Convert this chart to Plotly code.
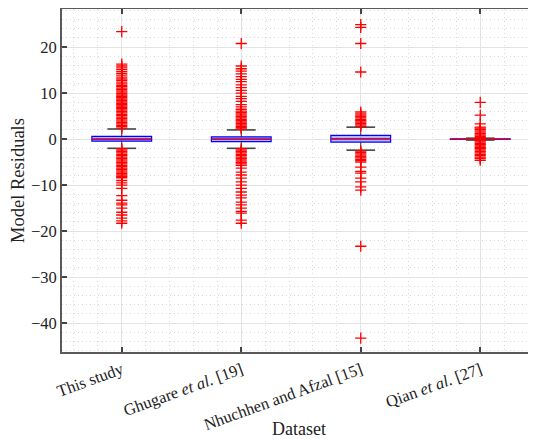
import plotly.graph_objects as go

# ---------------- data ----------------
categories = ["This study", "Ghugare <i>et al.</i> [19]",
              "Nhuchhen and Afzal [15]", "Qian <i>et al.</i> [27]"]
q1 = [-0.45, -0.55, -0.65, -0.08]
median = [0.0, 0.0, 0.05, 0.0]
q3 = [0.6, 0.5, 0.8, 0.08]
lower_whisker = [-2.0, -2.0, -2.4, -0.2]
upper_whisker = [2.2, 2.0, 2.6, 0.2]

outliers_this_study = [
    2.4, 2.7, 3.0, 3.3, 3.6, 3.9, 4.2, 4.5, 4.8, 5.1, 5.4, 5.7, 6.0, 6.3, 6.6,
    6.9, 7.2, 7.5, 7.8, 8.1, 8.4, 8.7, 9.0, 9.3, 9.6, 9.9, 10.2, 10.5, 10.8,
    11.1, 11.4, 11.7, 12.0, 12.4, 12.8, 13.1, 13.5, 13.9, 14.3, 14.7, 15.1,
    15.5, 15.9, 16.3, 23.4,
    -2.1, -2.4, -2.7, -3.0, -3.3, -3.6, -3.9, -4.2, -4.5, -4.8, -5.1, -5.4,
    -5.7, -6.0, -6.3, -6.6, -6.9, -7.2, -7.5, -7.8, -8.1, -8.4, -9.0, -9.5,
    -10.0, -10.7, -12.3, -13.3, -13.9, -14.3, -15.0, -15.9, -16.5, -17.2,
    -17.8, -18.3,
]
outliers_ghugare = [
    2.2, 2.5, 2.8, 3.1, 3.4, 3.7, 4.0, 4.3, 4.6, 4.9, 5.2, 5.5, 5.8, 6.1, 6.5,
    7.0, 7.5, 8.2, 8.8, 9.3, 10.0, 10.6, 11.2, 11.8, 12.5, 13.0, 13.6, 14.2,
    14.8, 15.3, 15.9, 20.8,
    -2.1, -2.4, -2.7, -3.0, -3.3, -3.6, -3.9, -4.2, -4.5, -4.8, -5.1, -5.4,
    -5.7, -6.3, -7.2, -7.8, -8.5, -9.3, -10.0, -10.7, -11.5, -12.2, -12.8,
    -13.7, -14.3, -15.0, -15.7, -16.1, -17.6, -18.3,
]
outliers_nhuchhen = [
    2.8, 3.1, 3.4, 3.7, 4.0, 4.3, 4.6, 4.9, 5.2, 5.5, 5.9, 14.6, 20.8, 24.3,
    24.9,
    -2.6, -2.9, -3.2, -3.5, -3.8, -4.1, -4.4, -4.7, -5.0, -6.1, -7.0, -7.4,
    -8.5, -9.3, -10.4, -11.1, -23.3, -43.3,
]
outliers_qian = [
    0.3, 0.6, 0.9, 1.2, 1.5, 1.8, 2.1, 2.4, 2.6, 3.3, 5.2, 8.0,
    -0.3, -0.6, -0.9, -1.2, -1.5, -1.8, -2.1, -2.4, -2.7, -3.0, -3.3, -3.6,
    -3.9, -4.2, -4.6,
]
outliers = [outliers_this_study, outliers_ghugare, outliers_nhuchhen, outliers_qian]

y_ticks = [-40, -30, -20, -10, 0, 10, 20]

# ---------------- style ----------------
FONT = "Liberation Serif, Times New Roman, serif"
positions = [i + 1 for i in range(len(categories))]
box_w = 0.5
cap_half = 0.12

fig = go.Figure()

# box bodies
fig.add_trace(go.Box(
    x=positions, q1=q1, median=median, q3=q3,
    lowerfence=q1, upperfence=q3,
    width=box_w, boxpoints=False,
    line=dict(color="#0000ff", width=1.2),
    fillcolor="rgba(40,40,255,0.35)",
    whiskerwidth=0, showlegend=False, hoverinfo="skip",
))

# whiskers (vertical) and caps
wx, wy, cx, cy = [], [], [], []
for p, lo, hi, a, b in zip(positions, lower_whisker, upper_whisker, q1, q3):
    wx += [p, p, None, p, p, None]
    wy += [b, hi, None, a, lo, None]
    cx += [p - cap_half, p + cap_half, None, p - cap_half, p + cap_half, None]
    cy += [hi, hi, None, lo, lo, None]
fig.add_trace(go.Scatter(x=wx, y=wy, mode="lines",
                         line=dict(color="#333333", width=1, dash="dash"),
                         showlegend=False, hoverinfo="skip"))
fig.add_trace(go.Scatter(x=cx, y=cy, mode="lines",
                         line=dict(color="#444444", width=1.6),
                         showlegend=False, hoverinfo="skip"))

# outliers
for p, vals in zip(positions, outliers):
    fig.add_trace(go.Scatter(
        x=[p] * len(vals), y=vals, mode="markers",
        marker=dict(symbol="cross-thin", size=8,
                    line=dict(color="#ff0000", width=1.3)),
        showlegend=False, hoverinfo="skip"))

# medians
mx, my = [], []
for p, m in zip(positions, median):
    mx += [p - box_w / 2, p + box_w / 2, None]
    my += [m, m, None]
fig.add_trace(go.Scatter(x=mx, y=my, mode="lines",
                         line=dict(color="#ff0000", width=1.2),
                         showlegend=False, hoverinfo="skip"))

# page body has an 8px margin, so the figure is sized/offset to compensate
fig.update_layout(
    width=528, height=431,
    margin=dict(l=54, r=0, t=1, b=87),
    paper_bgcolor="white", plot_bgcolor="white",
    font=dict(family=FONT, size=16, color="#222222"),
    showlegend=False,
)

fig.update_xaxes(
    range=[0.5, 0.5 + 474 / 119.5],
    tickmode="array", tickvals=positions, ticktext=categories,
    tickangle=-20, tickfont=dict(size=16.5, family=FONT),
    ticks="inside", ticklen=5, tickcolor="#444444", tickwidth=1.5,
    showline=True, linecolor="#5a5a5a", linewidth=2, mirror="ticks",
    showgrid=True, gridcolor="#e3e3e3", gridwidth=1,
    minor=dict(dtick=0.2, tick0=0, showgrid=True, gridcolor="#dcdcdc",
               griddash="1px,3px", gridwidth=1, ticklen=0),
    zeroline=False,
    title=dict(text="Dataset", font=dict(size=18, family=FONT), standoff=0),
    automargin=False,
)
fig.update_yaxes(
    range=[-46.3, 28.3],
    tickmode="array", tickvals=y_ticks,
    ticks="inside", ticklen=5, tickcolor="#444444", tickwidth=1.5,
    tickfont=dict(size=16.5, family=FONT),
    showline=True, linecolor="#5a5a5a", linewidth=2,
    showgrid=True, gridcolor="#e3e3e3", gridwidth=1,
    minor=dict(dtick=2, tick0=0, showgrid=True, gridcolor="#dcdcdc",
               griddash="1px,3px", gridwidth=1, ticklen=0),
    zeroline=False,
    title=dict(text="Model Residuals", font=dict(size=18.5, family=FONT), standoff=6),
    automargin=False,
)

fig.write_html("out.html")
